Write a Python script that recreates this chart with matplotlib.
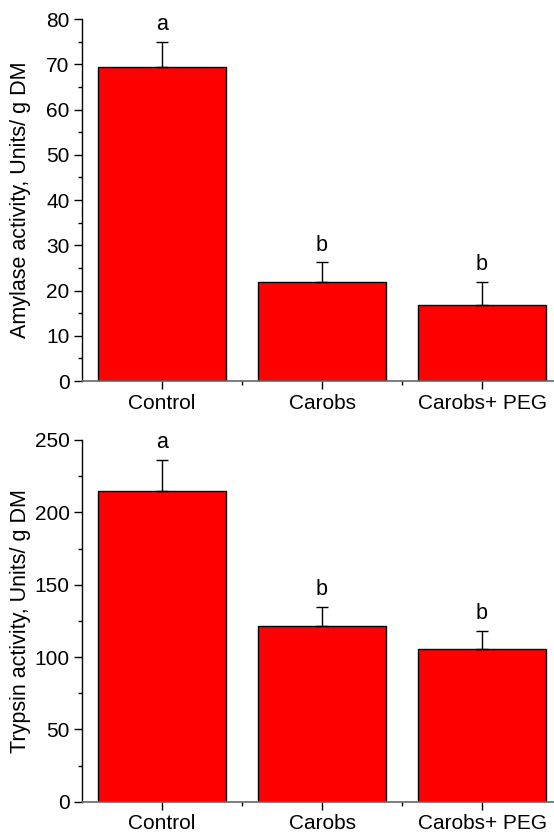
import matplotlib
matplotlib.use("Agg")
import matplotlib.pyplot as plt
from matplotlib.ticker import MultipleLocator, FixedLocator

plt.rcParams['font.family'] = ['Liberation Sans', 'DejaVu Sans']

categories = ["Control", "Carobs", "Carobs+ PEG"]
amylase = [69.5, 21.8, 16.9]
amylase_err = [5.5, 4.4, 5.0]
amylase_letters = ["a", "b", "b"]
trypsin = [215, 121.6, 105.7]
trypsin_err = [21, 13, 12]
trypsin_letters = ["a", "b", "b"]

W, H = 554, 834
fig = plt.figure(figsize=(W / 100, H / 100), dpi=100)

panels = [
    dict(vals=amylase, err=amylase_err, letters=amylase_letters,
         ylabel="Amylase activity, Units/ g DM", ylim=(0, 80), major=10, minor=5,
         rect=[82 / W, 1 - 381 / H, 1 - 82 / W, (381 - 19) / H]),
    dict(vals=trypsin, err=trypsin_err, letters=trypsin_letters,
         ylabel="Trypsin activity, Units/ g DM", ylim=(0, 250), major=50, minor=25,
         rect=[82 / W, 1 - 801.7 / H, 1 - 82 / W, (801.7 - 440) / H]),
]

fs = 15
for p in panels:
    ax = fig.add_axes(p["rect"])
    x = list(range(len(categories)))
    ax.bar(x, p["vals"], width=0.8, color="#ff0000", edgecolor="black", linewidth=1.0, zorder=2)
    ax.errorbar(x, p["vals"], yerr=[[0] * len(x), p["err"]], fmt="none", ecolor="black",
                elinewidth=1.0, capsize=4, capthick=1.0, zorder=3)
    for xi, v, e, lab in zip(x, p["vals"], p["err"], p["letters"]):
        ax.annotate(lab, (xi, v + e), xytext=(0, 5), textcoords="offset points",
                    ha="center", va="bottom", fontsize=fs + 0.5)
    ax.set_xlim(-0.5, 2.45)
    ax.set_ylim(*p["ylim"])
    ax.set_xticks(x)
    ax.set_xticklabels(categories, fontsize=fs)
    ax.xaxis.set_minor_locator(FixedLocator([0.5, 1.5]))
    ax.yaxis.set_major_locator(MultipleLocator(p["major"]))
    ax.yaxis.set_minor_locator(MultipleLocator(p["minor"]))
    ax.tick_params(axis="both", which="major", direction="out", length=6, width=1, labelsize=fs, pad=3)
    ax.tick_params(axis="both", which="minor", direction="out", length=3, width=1)
    ax.set_ylabel(p["ylabel"], fontsize=fs + 0.5)
    ax.yaxis.set_label_coords(-0.108, 0.5)
    for s in ["top", "right"]:
        ax.spines[s].set_visible(False)
    ax.spines["left"].set_color("black")
    ax.spines["bottom"].set_color("#666666")
    ax.spines["bottom"].set_linewidth(1.2)
    ax.spines["left"].set_linewidth(1.0)
    ax.patch.set_alpha(0)

fig.savefig("out.png", dpi=100)
